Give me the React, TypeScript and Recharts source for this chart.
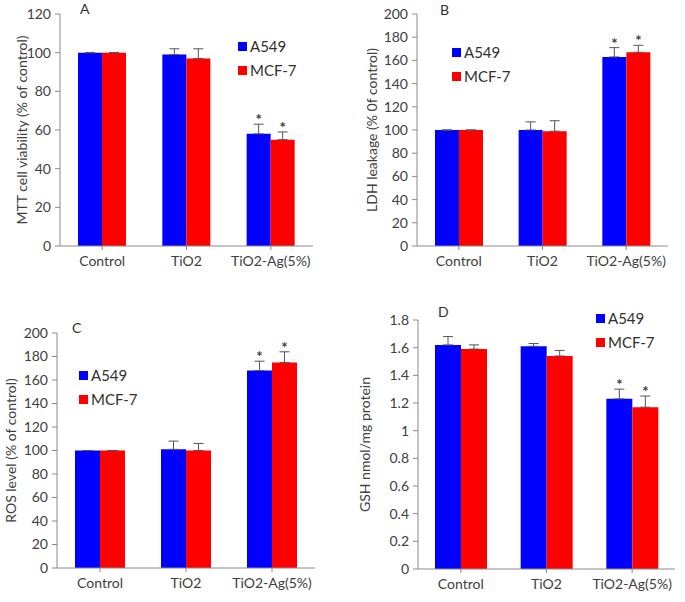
import React from "react";
import {
  BarChart,
  Bar,
  XAxis,
  YAxis,
  ErrorBar,
  LabelList,
  Legend,
} from "recharts";

// --- data ---
const categories = ["Control", "TiO2", "TiO2-Ag(5%)"];
const significant = [false, false, true];

const mttA549 = [100, 99, 58];
const mttA549Err = [0, 3, 5];
const mttMcf7 = [100, 97, 55];
const mttMcf7Err = [0, 5, 4];

const ldhA549 = [100, 100, 163];
const ldhA549Err = [0, 7, 8];
const ldhMcf7 = [100, 99, 167];
const ldhMcf7Err = [0, 9, 6];

const rosA549 = [100, 101, 168];
const rosA549Err = [0, 7, 8];
const rosMcf7 = [100, 100, 175];
const rosMcf7Err = [0, 6, 9];

const gshA549 = [1.62, 1.61, 1.23];
const gshA549Err = [0.06, 0.02, 0.07];
const gshMcf7 = [1.59, 1.54, 1.17];
const gshMcf7Err = [0.03, 0.04, 0.08];

const ticksPct120 = [0, 20, 40, 60, 80, 100, 120];
const ticksPct200 = [0, 20, 40, 60, 80, 100, 120, 140, 160, 180, 200];
const ticksGsh = [0, 0.2, 0.4, 0.6, 0.8, 1, 1.2, 1.4, 1.6, 1.8];

const BLUE = "#0000ff";
const RED = "#ff0000";
const FONT = "Lato, 'Liberation Sans', sans-serif";
const TEXT = "#404040";
const AXIS = "#8a8a8a";

const buildRows = (a: number[], aErr: number[], m: number[], mErr: number[]) =>
  categories.map((name, i) => ({
    name,
    A549: a[i],
    MCF7: m[i],
    errA: [0, aErr[i]],
    errM: [0, mErr[i]],
    upA: aErr[i],
    upM: mErr[i],
    sig: significant[i],
  }));

// asterisk above the error bar, scaled with the bar's own px/value ratio
const makeStar = (rows: any[], errKey: "upA" | "upM") => (props: any) => {
  const { x, y, width, height, value, index } = props;
  const row = rows[index];
  if (!row || !row.sig) return null;
  const pxPerUnit = height / value;
  const top = y - row[errKey] * pxPerUnit;
  return (
    <text
      x={x + width / 2}
      y={top + 1}
      textAnchor="middle"
      fontSize={15}
      fontWeight="bold"
      fontFamily={FONT}
      fill="#404040"
    >
      *
    </text>
  );
};

const LegendBox = () => (
  <div style={{ fontFamily: FONT, fontSize: 15, color: "#303030", lineHeight: "24px" }}>
    {[
      { label: "A549", color: BLUE },
      { label: "MCF-7", color: RED },
    ].map((it) => (
      <div key={it.label} style={{ display: "flex", alignItems: "center" }}>
        <span
          style={{
            display: "inline-block",
            width: 9,
            height: 9,
            background: it.color,
            marginRight: 3,
          }}
        />
        {it.label}
      </div>
    ))}
  </div>
);

interface PanelProps {
  left: number;
  top: number;
  letter: string;
  letterPos: [number, number];
  rows: any[];
  domain: [number, number];
  ticks: number[];
  yLabel: string;
  labelShift: number;
  margin: { top: number; right: number; bottom: number; left: number };
  yWidth: number;
  barSize: number;
  legendPos: [number, number];
}

const Panel = ({
  left,
  top,
  letter,
  letterPos,
  rows,
  domain,
  ticks,
  yLabel,
  labelShift,
  margin,
  yWidth,
  barSize,
  legendPos,
}: PanelProps) => (
  <div style={{ position: "absolute", left, top, width: 340, height: 300 }}>
    <BarChart width={340} height={300} data={rows} margin={margin} barGap={0}>
      <XAxis
        dataKey="name"
        tick={{ fill: TEXT, fontSize: 14, fontFamily: FONT }}
        tickLine={{ stroke: AXIS }}
        axisLine={{ stroke: AXIS }}
        tickSize={4}
        tickMargin={6}
        height={30}
      />
      <YAxis
        domain={domain}
        ticks={ticks}
        width={yWidth}
        interval={0}
        tick={{ fill: TEXT, fontSize: 14, fontFamily: FONT }}
        tickLine={{ stroke: AXIS }}
        axisLine={{ stroke: AXIS }}
        tickSize={5}
        tickMargin={4}
        tickFormatter={(v: number) => String(Math.round(v * 10) / 10)}
        label={{
          value: yLabel,
          angle: -90,
          position: "insideLeft",
          offset: 8,
          dx: labelShift,
          style: { textAnchor: "middle", fill: TEXT, fontSize: 14, fontFamily: FONT },
        }}
      />
      <Legend
        layout="vertical"
        align="center"
        verticalAlign="middle"
        content={<LegendBox />}
        wrapperStyle={{ left: legendPos[0], top: legendPos[1], width: "auto" }}
      />
      <Bar dataKey="A549" fill={BLUE} barSize={barSize} isAnimationActive={false}>
        <ErrorBar dataKey="errA" width={5} stroke="#555" strokeWidth={1} direction="y" />
        <LabelList dataKey="A549" content={makeStar(rows, "upA")} />
      </Bar>
      <Bar dataKey="MCF7" fill={RED} barSize={barSize} isAnimationActive={false}>
        <ErrorBar dataKey="errM" width={5} stroke="#555" strokeWidth={1} direction="y" />
        <LabelList dataKey="MCF7" content={makeStar(rows, "upM")} />
      </Bar>
    </BarChart>
    <span
      style={{
        position: "absolute",
        left: letterPos[0],
        top: letterPos[1],
        fontFamily: FONT,
        fontSize: 14,
        color: "#303030",
      }}
    >
      {letter}
    </span>
  </div>
);

const mttRows = buildRows(mttA549, mttA549Err, mttMcf7, mttMcf7Err);
const ldhRows = buildRows(ldhA549, ldhA549Err, ldhMcf7, ldhMcf7Err);
const rosRows = buildRows(rosA549, rosA549Err, rosMcf7, rosMcf7Err);
const gshRows = buildRows(gshA549, gshA549Err, gshMcf7, gshMcf7Err);

export default function App() {
  return (
    <div
      style={{
        position: "absolute",
        left: 0,
        top: 0,
        width: 685,
        height: 602,
        background: "#fff",
        overflow: "hidden",
      }}
    >
      <Panel
        left={0}
        top={0}
        letter="A"
        letterPos={[80, 0]}
        rows={mttRows}
        domain={[0, 120]}
        ticks={ticksPct120}
        yLabel="MTT cell viability (% of control)"
        labelShift={9}
        margin={{ top: 14, right: 27, bottom: 24, left: 5 }}
        yWidth={55}
        barSize={24}
        legendPos={[238, 34]}
      />
      <Panel
        left={340}
        top={0}
        letter="B"
        letterPos={[100, 1]}
        rows={ldhRows}
        domain={[0, 200]}
        ticks={ticksPct200}
        yLabel="LDH leakage (% 0f control)"
        labelShift={0}
        margin={{ top: 14, right: 12, bottom: 24, left: 24 }}
        yWidth={53}
        barSize={24}
        legendPos={[112, 40]}
      />
      <Panel
        left={0}
        top={300}
        letter="C"
        letterPos={[72, 19]}
        rows={rosRows}
        domain={[0, 200]}
        ticks={ticksPct200}
        yLabel="ROS level (% of control)"
        labelShift={-3}
        margin={{ top: 33, right: 25, bottom: 2, left: 6 }}
        yWidth={51}
        barSize={25}
        legendPos={[79, 63]}
      />
      <Panel
        left={340}
        top={300}
        letter="D"
        letterPos={[98, 3]}
        rows={gshRows}
        domain={[0, 1.8]}
        ticks={ticksGsh}
        yLabel="GSH nmol/mg protein"
        labelShift={-8}
        margin={{ top: 20, right: 5, bottom: 1, left: 25 }}
        yWidth={53}
        barSize={26}
        legendPos={[256, 6]}
      />
    </div>
  );
}
